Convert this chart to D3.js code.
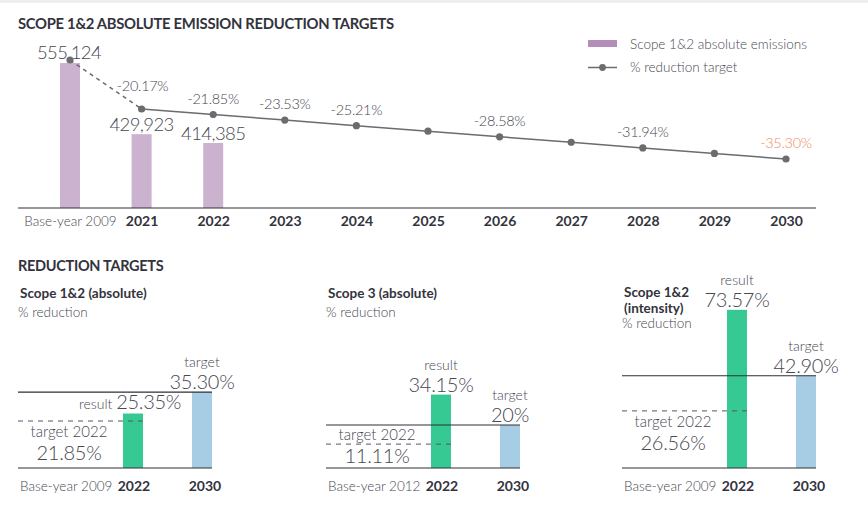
<!DOCTYPE html>
<html><head><meta charset="utf-8">
<script src="https://cdn.jsdelivr.net/npm/d3@7"></script>
<style>
body{margin:0;background:#fff;}
svg{display:block;font-family:Lato,"Open Sans",sans-serif;}
.light{font-weight:300;fill:#474752;}
.bold{font-weight:700;fill:#33333d;}
</style></head>
<body>
<svg id="chart" width="868" height="512"></svg>
<script>
// ---------- data ----------
const years = ["Base-year 2009","2021","2022","2023","2024","2025","2026","2027","2028","2029","2030"];
const barYears = ["Base-year 2009","2021","2022"];
const barValues = [555124, 429923, 414385];
const targetPct = [0, -20.17, -21.85, -23.53, -25.21, -26.89, -28.58, -30.26, -31.94, -33.62, -35.30];
const labelledYears = ["2021","2022","2023","2024","2026","2028","2030"];
const legendLabels = ["Scope 1&2 absolute emissions", "% reduction target"];

const panelTitles = [["Scope 1&2 (absolute)"], ["Scope 3 (absolute)"], ["Scope 1&2", "(intensity)"]];
const panelBaseYears = ["Base-year 2009", "Base-year 2012", "Base-year 2009"];
const panelCats = ["2022", "2030"];
const result2022 = [25.35, 34.15, 73.57];
const target2030 = [35.30, 20, 42.90];
const target2022 = [21.85, 11.11, 26.56];

// ---------- setup ----------
const svg = d3.select("#chart");
const C = {bar:"#cbb3cf", legendBar:"#b48db8", line:"#6b6b70", orange:"#ef8a5e", green:"#37c994", blue:"#a7cde4", axis:"#2e2e38"};
svg.append("rect").attr("x",0).attr("y",0).attr("width",868).attr("height",3).attr("fill","#eeeeee");

// ---------- top chart ----------
svg.append("text").attr("class","bold").attr("x",18).attr("y",29).attr("font-size",14.8).attr("letter-spacing",-0.3)
  .text("SCOPE 1&2 ABSOLUTE EMISSION REDUCTION TARGETS");

const x = d3.scalePoint().domain(years).range([70, 786]);
const yBar = d3.scaleLinear().domain([300000, 555124]).range([208, 63]);
const yLine = d3.scaleLinear().domain([0, -20.17, -35.30]).range([60, 109, 159]);
const bw = 20;

svg.selectAll("rect.bar").data(barValues).join("rect").attr("class","bar")
  .attr("x",(d,i)=>x(barYears[i])-bw/2).attr("width",bw)
  .attr("y",d=>yBar(d)).attr("height",d=>208-yBar(d)).attr("fill",C.bar);

const fmt = d3.format(",");
svg.selectAll("text.barlab").data(barValues).join("text").attr("class","barlab light")
  .attr("x",(d,i)=>x(barYears[i])+(i===0?-1:0))
  .attr("y",(d,i)=>i===0? yBar(d)-4 : yBar(d)-3)
  .attr("text-anchor","middle").attr("font-size",18.5).attr("letter-spacing",-0.6).text(d=>fmt(d));

// axis
const xAxis = d3.axisBottom(x).tickSize(0).tickPadding(8);
const gx = svg.append("g").attr("transform","translate(0,208)").call(xAxis);
gx.select(".domain").remove();
gx.selectAll("text").attr("font-family","Lato,sans-serif")
  .attr("font-size",d=>d===years[0]?13.5:14)
  .attr("font-weight",d=>d===years[0]?300:700)
  .attr("fill",d=>d===years[0]?"#474752":"#33333d");
svg.append("line").attr("x1",18).attr("x2",816).attr("y1",208).attr("y2",208).attr("stroke",C.axis).attr("stroke-width",1.2);

// line
const pts = years.map((yr,i)=>({yr, v:targetPct[i]}));
const line = d3.line().x(d=>x(d.yr)).y(d=>yLine(d.v));
svg.append("path").attr("d",line(pts.slice(0,2))).attr("fill","none").attr("stroke",C.line).attr("stroke-width",1.5).attr("stroke-dasharray","4,4");
svg.append("path").attr("d",line(pts.slice(1))).attr("fill","none").attr("stroke",C.line).attr("stroke-width",1.5);
svg.selectAll("circle.pt").data(pts).join("circle").attr("class","pt")
  .attr("cx",d=>x(d.yr)).attr("cy",d=>yLine(d.v)).attr("r",3.6).attr("fill",C.line);
const pctFmt = v => (v < 0 ? "-" : "") + d3.format(".2f")(Math.abs(v)) + "%";
svg.selectAll("text.pct").data(pts.filter(d=>labelledYears.includes(d.yr))).join("text").attr("class","pct light")
  .attr("x",d=>x(d.yr)+(d.yr==="2021"?1:0))
  .attr("y",d=>yLine(d.v)-(d.yr==="2021"?18:11))
  .attr("text-anchor","middle").attr("font-size",14.5).attr("letter-spacing",-0.3)
  .style("fill",d=>d.yr==="2030"?C.orange:null)
  .text(d=>pctFmt(d.v));

// legend
const lg = svg.append("g").attr("transform","translate(588,0)");
lg.append("rect").attr("x",0).attr("y",40).attr("width",29).attr("height",7).attr("fill",C.legendBar);
lg.append("line").attr("x1",0).attr("x2",29).attr("y1",67.5).attr("y2",67.5).attr("stroke",C.line).attr("stroke-width",1.5);
lg.append("circle").attr("cx",14.5).attr("cy",67.5).attr("r",3.4).attr("fill",C.line);
lg.selectAll("text").data(legendLabels).join("text").attr("class","light")
  .attr("x",42).attr("y",(d,i)=>49+i*22.5).attr("font-size",13.5).text(d=>d);

// ---------- reduction targets ----------
svg.append("text").attr("class","bold").attr("x",18).attr("y",271).attr("font-size",14.5).attr("letter-spacing",-0.3).text("REDUCTION TARGETS");

const panelX = [18, 326, 622];
const yP = d3.scaleLinear().domain([0, 80]).range([468, 468 - 80*2.15]);
const px = d3.scalePoint().domain(panelCats).range([115, 184]);
const pfmt = d => (d % 1 === 0 ? d3.format("d")(d) : d3.format(".2f")(d)) + "%";
const W = 194;

panelX.forEach((ox, i) => {
  const g = svg.append("g").attr("transform", `translate(${ox},0)`);
  const titles = panelTitles[i];
  const ty = i===2 ? 297 : 298;
  titles.forEach((t, j) => {
    g.append("text").attr("class","bold").attr("x", 2).attr("y", ty + j*16).attr("font-size",13.5).text(t);
  });
  g.append("text").attr("class","light").attr("x",0).attr("y", ty + titles.length*16 + (i===2?-1:3))
    .attr("font-size",13.5).text("% reduction");

  const t30 = yP(target2030[i]), r22 = yP(result2022[i]), t22 = yP(target2022[i]);
  // bars
  g.append("rect").attr("x",px("2022")-bw/2).attr("width",bw).attr("y",r22).attr("height",468-r22).attr("fill",C.green);
  g.append("rect").attr("x",px("2030")-bw/2).attr("width",bw).attr("y",t30).attr("height",468-t30).attr("fill",C.blue);
  // lines
  g.append("line").attr("x1",0).attr("x2",W).attr("y1",t30).attr("y2",t30).attr("stroke",C.axis).attr("stroke-width",1.2);
  g.append("line").attr("x1",0).attr("x2",W).attr("y1",468).attr("y2",468).attr("stroke",C.axis).attr("stroke-width",1.2);
  g.append("line").attr("x1",0).attr("x2",px("2022")+bw/2).attr("y1",t22).attr("y2",t22)
    .attr("stroke","#55555f").attr("stroke-width",1).attr("stroke-dasharray","5,5");

  // target 2030 labels
  g.append("text").attr("class","light").attr("x",px("2030")).attr("y",t30-25).attr("text-anchor","middle").attr("font-size",14).text("target");
  g.append("text").attr("class","light").attr("x",px("2030")).attr("y",t30-3).attr("text-anchor","middle").attr("font-size",20).attr("letter-spacing",-0.3).text(pfmt(target2030[i]));

  // result labels
  if (r22 > t30) {
    const tx = g.append("text").attr("class","light").attr("x",px("2022")-3).attr("y",r22-4).attr("text-anchor","middle");
    tx.append("tspan").attr("font-size",14).text("result ");
    tx.append("tspan").attr("font-size",20).attr("letter-spacing",-0.3).text(pfmt(result2022[i]));
  } else {
    g.append("text").attr("class","light").attr("x",px("2022")).attr("y",r22-25).attr("text-anchor","middle").attr("font-size",14).text("result");
    g.append("text").attr("class","light").attr("x",px("2022")).attr("y",r22-3).attr("text-anchor","middle").attr("font-size",20).attr("letter-spacing",-0.3).text(pfmt(result2022[i]));
  }

  // target 2022 labels: below the dashed line if there is room, else straddling it
  let b1, b2;
  if (t22 + 39 <= 467) { b1 = t22 + 16; b2 = t22 + 39; }
  else { b1 = t22 - 4; b2 = t22 + 19; }
  g.append("text").attr("class","light").attr("x",51).attr("y",b1).attr("text-anchor","middle").attr("font-size",15).text("target 2022");
  g.append("text").attr("class","light").attr("x",51).attr("y",b2).attr("text-anchor","middle").attr("font-size",20).attr("letter-spacing",-0.3).text(pfmt(target2022[i]));

  // x labels
  g.append("text").attr("class","light").attr("x",2).attr("y",491).attr("font-size",13.5).text(panelBaseYears[i]);
  g.selectAll("text.cat").data(panelCats).join("text").attr("class","cat bold")
    .attr("x",d=>px(d)+(d==="2022"?1:3)).attr("y",491).attr("text-anchor","middle").attr("font-size",14).text(d=>d);
});
</script>
</body></html>
